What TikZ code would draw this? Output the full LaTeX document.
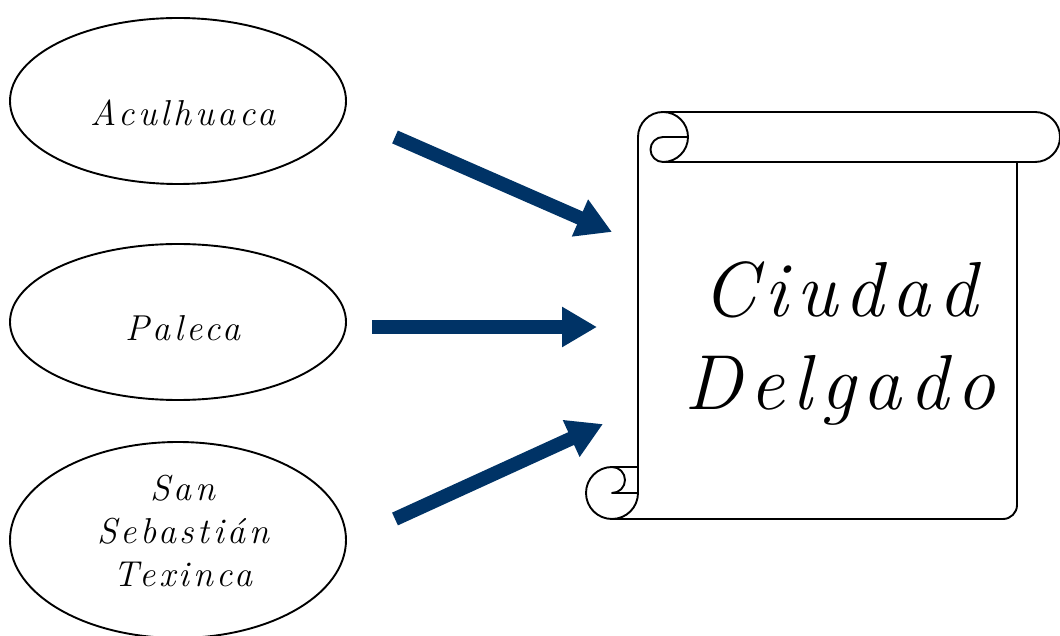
\documentclass[tikz,border=0pt]{standalone}
\usepackage{fontspec}
\usetikzlibrary{arrows.meta,shapes.geometric}
\definecolor{navy}{RGB}{0,51,102}
\newfontfamily\handfam{Latin Modern Roman}[LetterSpace=10]
\newcommand{\handfont}{\handfam\itshape}
\begin{document}
\begin{tikzpicture}[x=1pt,y=1pt,
  town/.style={draw, ellipse, line width=1.9pt, minimum width=336pt, inner sep=0pt},
  lbl/.style={font=\handfont\fontsize{36}{43}\selectfont, align=center, inner sep=0pt},
  big/.style={font=\handfont\fontsize{78}{93}\selectfont, align=center, inner sep=0pt},
  arr/.style={draw=navy, line width=14pt, -{Triangle[length=35pt,width=38pt]}},
  outline/.style={line width=1.9pt, line join=round, line cap=round}]
\useasboundingbox (0,0) rectangle (1060,635);
% towns
\node[town, minimum height=166pt] (acul) at (178,534) {};
\node[town, minimum height=156pt] (pal) at (178,313) {};
\node[town, minimum height=196pt] (san) at (178,95) {};
\node[lbl] (acultxt) at (183,522) {Aculhuaca};
\node[lbl] (paltxt) at (183,307) {Paleca};
\node[lbl] (santxt) at (183,104) {San\\Sebastián\\Texinca};
% scroll
\begin{scope}[outline]
\draw (638,498) arc[start angle=180,end angle=-90,radius=25];
\draw (688,498) -- (663,498) arc[start angle=90,end angle=270,radius=12.5];
\draw (663,523) -- (1035,523) arc[start angle=90,end angle=-90,radius=25] -- (663,473);
\draw (638,498) -- (638,142);
\draw (1017,473) -- (1017,130) arc[start angle=0,end angle=-90,radius=14] -- (612,116);
\draw (612,168) arc[start angle=90,end angle=360,radius=26];
\draw (612,168) -- (638,168);
\draw (612,168) arc[start angle=90,end angle=-90,radius=13] -- (638,142);
\end{scope}
\node[big] (city) at (840,291) {Ciudad\\Delgado};
% arrows
\coordinate (a1s) at (395,498);
\coordinate (a1e) at (612,403);
\coordinate (a2s) at (372,308);
\coordinate (a2e) at (597,308);
\coordinate (a3s) at (395,116);
\coordinate (a3e) at (603,211);
\draw[arr] (a1s) -- (a1e);
\draw[arr] (a2s) -- (a2e);
\draw[arr] (a3s) -- (a3e);
\end{tikzpicture}
\end{document}
